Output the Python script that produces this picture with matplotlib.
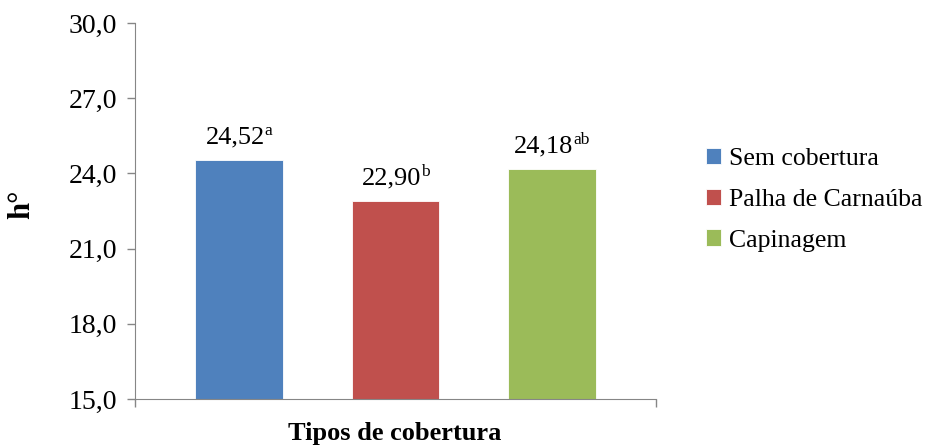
import numpy as np
import matplotlib
matplotlib.use("Agg")
import matplotlib.pyplot as plt

# dados do grafico
tipos = ["Sem cobertura", "Palha de Carnaúba", "Capinagem"]
valores = [24.52, 22.90, 24.18]
letras = ["a", "b", "ab"]
cores = ["#4F81BD", "#C0504D", "#9BBB59"]
yticks = [15, 18, 21, 24, 27, 30]

plt.rcParams["font.family"] = ["Liberation Serif", "DejaVu Serif"]

fig = plt.figure(figsize=(9.27, 4.47), dpi=100)
ax = fig.add_axes([135/927, 1-399/447, (656-135)/927, (399-23)/447])

x = np.arange(len(tipos))
barras = ax.bar(x, valores, width=0.56, color=cores, edgecolor="white",
                linewidth=0.6, label=tipos)

ax.set_ylim(15, 30)
ax.set_yticks(yticks)
ax.set_yticklabels([f"{t:.1f}".replace(".", ",") for t in yticks], fontsize=20)
ax.set_xlim(-0.665, 2.665)
ax.set_xticks([-0.665, 2.665])
ax.set_xticklabels(["", ""])

for s in ["top", "right"]:
    ax.spines[s].set_visible(False)
for s in ["left", "bottom"]:
    ax.spines[s].set_color("#868686")
ax.tick_params(axis="both", colors="#868686", length=6, width=1, labelcolor="black")
ax.tick_params(axis="y", pad=7)

# rotulos com letra sobrescrita, centrados na barra
renderer = fig.canvas.get_renderer()
for xi, v, l in zip(x, valores, letras):
    t1 = ax.annotate(f"{v:.2f}".replace(".", ","), (xi, v), xytext=(0, 12),
                     textcoords="offset points", ha="center", va="baseline",
                     fontsize=19)
    w1 = t1.get_window_extent(renderer).width
    t2 = ax.annotate(l, (xi, v), xytext=(0, 12), textcoords="offset points",
                     ha="left", va="baseline", fontsize=12.5)
    w2 = t2.get_window_extent(renderer).width
    sh = w2 / 2 * 72 / fig.dpi
    t1.set_position((-sh, 12))
    t2.set_position((w1 / 2 * 72 / fig.dpi - sh, 18))

fig.text(22/927, 1-204/447, "h°", rotation=90, ha="center", va="center",
         fontsize=22, fontweight="bold")
fig.text(395/927, 2/447, "Tipos de cobertura", ha="center", va="bottom",
         fontsize=19, fontweight="bold")

ax.legend(handles=barras, labels=tipos, loc="center left",
          bbox_to_anchor=(1.096, 0.53), frameon=False, fontsize=18.5,
          handlelength=0.6, handleheight=0.6, handletextpad=0.3,
          labelspacing=0.72, borderaxespad=0, borderpad=0)

fig.savefig("out.png", dpi=100)
